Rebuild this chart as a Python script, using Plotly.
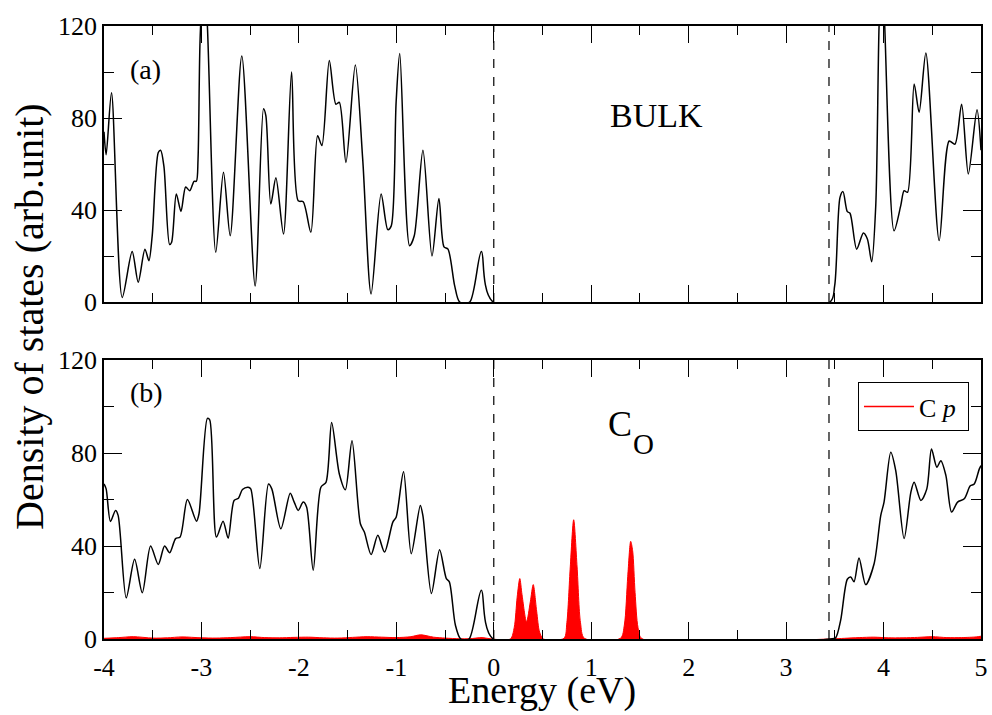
import plotly.graph_objects as go

# ---------------- data ----------------
bulk_energy = [-4.0, -3.978, -3.923, -3.813, -3.711, -3.649, -3.580, -3.539, -3.505, -3.443,
               -3.419, -3.385, -3.327, -3.306, -3.258, -3.210, -3.162, -3.120, -3.076, -3.052,
               -3.035, -3.014, -2.975, -2.939, -2.853, -2.774, -2.705, -2.586, -2.449, -2.363,
               -2.339, -2.288, -2.236, -2.158, -2.075, -2.007, -1.956, -1.877, -1.808, -1.764,
               -1.688, -1.620, -1.585, -1.517, -1.421, -1.345, -1.259, -1.156, -1.088, -1.053,
               -1.002, -0.965, -0.864, -0.816, -0.727, -0.634, -0.563, -0.511, -0.470, -0.401,
               -0.350, -0.247, -0.127, -0.007, 3.45, 3.498, 3.553, 3.584, 3.628, 3.656,
               3.724, 3.793, 3.834, 3.878, 3.920, 3.954, 3.985, 4.012, 4.108, 4.177,
               4.211, 4.246, 4.314, 4.365, 4.434, 4.571, 4.674, 4.732, 4.801, 4.870,
               4.959, 5.0]
bulk_dos = [74, 64, 91, 2, 22, 8.6, 23, 18, 29, 65,
            66, 59, 25, 26, 47, 39.4, 50, 48.4, 52.5, 52.5,
            62, 114, 145, 120, 21.6, 56.4, 28.8, 107, 7, 84,
            81, 42.6, 54, 29.6, 100, 44, 43.6, 30.3, 72.3, 68,
            105, 86, 86.8, 60.7, 103, 62, 3.5, 47, 31.5, 33,
            87, 108, 24.5, 28.8, 66, 20, 45, 24, 23, 7,
            0, 0, 22, 0, 0, 7, 45.5, 48, 39.3, 38.6,
            23, 30, 27.4, 17.5, 42, 120, 150, 120, 31, 42,
            48.4, 47.7, 94.8, 82.5, 108.3, 26.7, 70, 68.6, 86, 55.7,
            83.6, 66]

co_energy = [-4.0, -3.978, -3.934, -3.882, -3.855, -3.772, -3.686, -3.607, -3.522, -3.443,
             -3.378, -3.326, -3.265, -3.219, -3.144, -3.051, -3.025, -2.939, -2.915, -2.846,
             -2.778, -2.726, -2.665, -2.620, -2.579, -2.521, -2.494, -2.401, -2.312, -2.278,
             -2.185, -2.089, -2.048, -2.007, -1.956, -1.921, -1.853, -1.774, -1.722, -1.664,
             -1.585, -1.523, -1.455, -1.369, -1.328, -1.259, -1.190, -1.121, -1.036, -1.002,
             -0.926, -0.847, -0.754, -0.727, -0.640, -0.556, -0.487, -0.456, -0.394, -0.339,
             -0.254, -0.127, -0.007, 3.457, 3.508, 3.560, 3.628, 3.663, 3.697, 3.748,
             3.817, 3.903, 3.971, 4.005, 4.074, 4.125, 4.211, 4.280, 4.314, 4.383,
             4.444, 4.492, 4.547, 4.588, 4.640, 4.698, 4.760, 4.828, 4.890, 4.931,
             4.982, 5.0]
co_dos = [66.7, 64.6, 50.6, 55.3, 53.2, 17.7, 34.3, 19.9, 40, 32.1,
          40, 37.1, 43.2, 43.9, 60, 50.7, 53.9, 94.9, 94.3, 43.9,
          50.7, 43.4, 59.6, 60.6, 64.3, 65.3, 64.6, 30.3, 66.7, 64.6,
          47.4, 62.7, 58.9, 55.3, 58.9, 56.8, 29.6, 65.3, 67.4, 93.1,
          71, 64.2, 85.3, 49.6, 46, 36.3, 44.6, 37.4, 50.3, 52.4,
          72, 36.7, 57.4, 53, 19.6, 38.4, 26, 24.6, 6, 0,
          0, 21, 0, 0, 0.5, 8.1, 25.7, 26.7, 24.6, 34.9,
          23.4, 32.4, 53.1, 58.9, 80.3, 72.4, 43.2, 63.1, 67.4, 59.6,
          64.6, 81.7, 73.9, 76.7, 70.3, 54.6, 58.9, 60.3, 65.9, 66.7,
          73.1, 74.6]

cp_energy = [-4.0, -3.85, -3.7, -3.5, -3.35, -3.2, -3.0, -2.85, -2.7, -2.5,
             -2.35, -2.2, -2.05, -1.9, -1.75, -1.6, -1.45, -1.3, -1.15, -1.0,
             -0.85, -0.75, -0.62, -0.5, -0.35, -0.25, -0.12, -0.02, 0.17, 0.21,
             0.24, 0.267, 0.29, 0.336, 0.375, 0.405, 0.44, 0.47, 0.51, 0.72,
             0.75, 0.785, 0.82, 0.855, 0.89, 0.93, 1.30, 1.34, 1.375, 1.405,
             1.425, 1.45, 1.48, 1.52, 3.45, 3.6, 3.75, 3.9, 4.05, 4.2,
             4.35, 4.5, 4.65, 4.8, 4.95, 5.0]
cp_dos = [0.3, 0.6, 1.0, 0.4, 0.5, 0.9, 0.5, 0.4, 0.6, 1.0,
          0.6, 0.5, 0.7, 0.8, 0.5, 0.4, 0.7, 1.0, 0.8, 0.6,
          1.0, 1.8, 0.8, 0.4, 0.1, 0.1, 0.6, 0.0, 0.0, 5,
          18, 26, 19, 7.4, 16, 23.4, 12, 3, 0.0, 0.3,
          7, 31, 51.3, 31, 7, 0.3, 0.3, 6, 27, 42,
          38, 20, 5, 0.2, 0.0, 0.3, 0.6, 0.8, 0.5, 0.5,
          0.7, 1.0, 0.6, 0.6, 0.9, 1.2]

gap_edges = [0.0, 3.44]

x_ticks = [-4, -3, -2, -1, 0, 1, 2, 3, 4, 5]
x_tick_labels = ["-4", "-3", "-2", "-1", "0", "1", "2", "3", "4", "5"]
y_ticks = [0, 40, 80, 120]
y_tick_labels = ["0", "40", "80", "120"]

# ---------------- figure ----------------
SERIF = "Liberation Serif"
fig = go.Figure()

# top panel (a)
fig.add_trace(go.Scatter(x=bulk_energy, y=bulk_dos, mode="lines", line=dict(color="black", width=1.5, shape="spline", smoothing=0.8),
                         xaxis="x2", yaxis="y2", showlegend=False, hoverinfo="skip"))
# bottom panel (b)
fig.add_trace(go.Scatter(x=cp_energy, y=cp_dos, mode="lines", fill="tozeroy", fillcolor="red",
                         line=dict(color="red", width=1, shape="spline", smoothing=0.8),
                         xaxis="x", yaxis="y", showlegend=False, hoverinfo="skip"))
fig.add_trace(go.Scatter(x=co_energy, y=co_dos, mode="lines", line=dict(color="black", width=1.5, shape="spline", smoothing=0.8),
                         xaxis="x", yaxis="y", showlegend=False, hoverinfo="skip"))
# legend entry as a red line
fig.add_trace(go.Scatter(x=[None], y=[None], mode="lines", line=dict(color="red", width=1.5),
                         name="C <i>p</i>\u00a0", xaxis="x", yaxis="y", showlegend=True))

# dashed band-edge lines
for xa, ya in (("x", "y"), ("x2", "y2")):
    for e in gap_edges:
        fig.add_trace(go.Scatter(x=[e, e], y=[y_ticks[0], y_ticks[-1]], mode="lines",
                                 line=dict(color="black", width=1.2, dash="dash"),
                                 xaxis=xa, yaxis=ya, showlegend=False, hoverinfo="skip"))

axis_common = dict(showline=True, linecolor="black", linewidth=1.5, mirror="allticks", automargin=False,
                   ticks="inside", tickcolor="black", tickwidth=1.3, showgrid=False, zeroline=False,
                   tickfont=dict(family=SERIF, size=26, color="black"))

fig.update_layout(
    width=992, height=715,
    margin=dict(l=104, r=11, t=26, b=76, autoexpand=False),
    paper_bgcolor="white", plot_bgcolor="white",
    xaxis=dict(domain=[0, 1], anchor="y", range=[-4, 5], tickvals=x_ticks, ticktext=x_tick_labels,
               ticklen=17, ticklabelstandoff=4,
               minor=dict(dtick=0.5, ticklen=9, tickcolor="black", tickwidth=1.3, ticks="inside", showgrid=False),
               **axis_common),
    yaxis=dict(domain=[0, 0.455], anchor="x", range=[0, 120], tickvals=y_ticks, ticktext=y_tick_labels, ticklen=18,
               minor=dict(dtick=20, ticklen=10, tickcolor="black", tickwidth=1.3, ticks="inside", showgrid=False),
               **axis_common),
    xaxis2=dict(domain=[0, 1], anchor="y2", range=[-4, 5], tickvals=x_ticks, ticklen=17, showticklabels=False,
                minor=dict(dtick=0.5, ticklen=9, tickcolor="black", tickwidth=1.3, ticks="inside", showgrid=False),
                **axis_common),
    yaxis2=dict(domain=[0.5497, 1], anchor="x2", range=[0, 120], tickvals=y_ticks, ticktext=y_tick_labels, ticklen=18,
                minor=dict(dtick=20, ticklen=10, tickcolor="black", tickwidth=1.3, ticks="inside", showgrid=False),
                **axis_common),
    legend=dict(x=0.9863, y=0.419, xanchor="right", yanchor="top", bordercolor="black", borderwidth=1,
                bgcolor="white", font=dict(family=SERIF, size=26, color="black"), itemwidth=50),
    font=dict(family=SERIF, color="black"),
)

annotations = [
    dict(text="(a)", x=-3.575, y=101, xref="x2", yref="y2", font=dict(size=28)),
    dict(text="BULK", x=1.667, y=81, xref="x2", yref="y2", font=dict(size=34)),
    dict(text="(b)", x=-3.56, y=106, xref="x", yref="y", font=dict(size=28)),
    dict(text="C", x=1.296, y=92.7, xref="x", yref="y", font=dict(size=36)),
    dict(text="O", x=1.54, y=84, xref="x", yref="y", font=dict(size=29)),
    dict(text="Density of states (arb.unit)", x=-0.0844, y=0.527, xref="paper", yref="paper",
         textangle=-90, font=dict(size=40)),
    dict(text="Energy (eV)", x=0.4994, y=-0.0832, xref="paper", yref="paper", font=dict(size=38)),
]
for a in annotations:
    a.update(showarrow=False, xanchor="center", yanchor="middle")
    a["font"].update(family=SERIF, color="black")
fig.update_layout(annotations=annotations)

fig.write_html("out.html", config={"displayModeBar": False},
               post_script="document.body.style.margin='0px';")
